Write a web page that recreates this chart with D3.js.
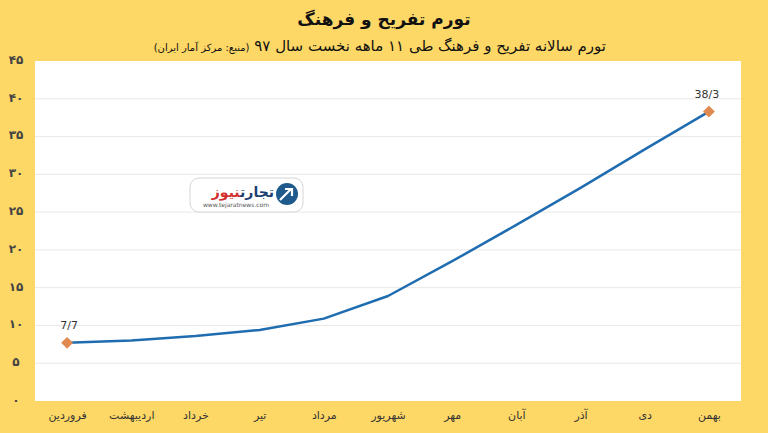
<!DOCTYPE html>
<html>
<head>
<meta charset="utf-8">
<script src="https://cdn.jsdelivr.net/npm/d3@7/dist/d3.min.js"></script>
<style>
html,body{margin:0;padding:0;background:#fed866;}
svg{display:block;}
text{font-family:"DejaVu Sans","Noto Sans",sans-serif;}
</style>
</head>
<body>
<svg id="chart" width="768" height="433"></svg>
<script>
const months = ["فروردین","اردیبهشت","خرداد","تیر","مرداد","شهریور","مهر","آبان","آذر","دی","بهمن"];
const inflation = [7.7, 8.0, 8.6, 9.4, 10.9, 13.9, 18.5, 23.3, 28.2, 33.3, 38.3];
const yTicks = [0,5,10,15,20,25,30,35,40,45];
const labeledIdx = [0, 10];
const labelText = ["7/7", "38/3"];
const title = "تورم تفریح و فرهنگ";
const subtitle = "تورم سالانه تفریح و فرهنگ طی ۱۱ ماهه نخست سال ۹۷";
const source = "(منبع: مرکز آمار ایران)";

const toFa = n => String(n).replace(/\d/g, d => "۰۱۲۳۴۵۶۷۸۹"[+d]);

const svg = d3.select("#chart");
const W = 768, H = 433;
const plot = {left: 35, top: 61, right: 741, bottom: 401};

svg.append("rect").attr("width", W).attr("height", H).attr("fill", "#fed866");

// Title
svg.append("text").attr("x", 384).attr("y", 25).attr("text-anchor", "middle")
  .attr("font-size", 17).attr("font-weight", "bold").attr("fill", "#111")
  .attr("direction", "rtl").text(title);

const sub = svg.append("text").attr("x", 606).attr("y", 51).attr("text-anchor", "start")
  .attr("direction", "rtl").attr("fill", "#111");
sub.append("tspan").attr("font-size", 15).text(subtitle + " ");
sub.append("tspan").attr("font-size", 10).text(source);

// Plot area
svg.append("rect").attr("x", plot.left).attr("y", plot.top)
  .attr("width", plot.right - plot.left).attr("height", plot.bottom - plot.top)
  .attr("fill", "#ffffff");

const x = d3.scalePoint().domain(months).range([plot.left, plot.right]).padding(0.5);
const y = d3.scaleLinear().domain([0, 45]).range([plot.bottom, plot.top]);

// gridlines
svg.append("g").selectAll("line").data(yTicks.filter(t => t > 0 && t < 45)).join("line")
  .attr("x1", plot.left).attr("x2", plot.right)
  .attr("y1", d => y(d)).attr("y2", d => y(d))
  .attr("stroke", "#e8e8e8").attr("stroke-width", 1);

// Y axis
const yAxis = svg.append("g").attr("transform", `translate(${plot.left},0)`)
  .call(d3.axisLeft(y).tickValues(yTicks).tickFormat(toFa).tickSize(0));
yAxis.select(".domain").remove();
yAxis.selectAll("text").attr("x", -19).attr("dy", "0.2em").attr("text-anchor", "middle")
  .attr("font-size", 12).attr("font-weight", "bold").attr("fill", "#444").attr("font-family", "DejaVu Sans");

// X axis
const xAxis = svg.append("g").attr("transform", `translate(0,${plot.bottom})`)
  .call(d3.axisBottom(x).tickSize(0));
xAxis.select(".domain").remove();
xAxis.selectAll("text").attr("y", 14).attr("dy", "0.32em")
  .attr("font-size", 11).attr("fill", "#333").attr("font-family", "DejaVu Sans");

// Logo
const logo = svg.append("g").attr("transform", "translate(190,178)");
logo.append("rect").attr("width", 113).attr("height", 34).attr("rx", 9)
  .attr("fill", "#fff").attr("stroke", "#d5d5d5");
logo.append("circle").attr("cx", 97).attr("cy", 16).attr("r", 11).attr("fill", "#1e5a8c");
logo.append("path").attr("d", "M90,22 L101,11 M95,11 L102,11 L102,18")
  .attr("stroke", "#fff").attr("stroke-width", 2.2).attr("fill", "none");
const lt = logo.append("text").attr("x", 84).attr("y", 19).attr("text-anchor", "start")
  .attr("direction", "rtl").attr("font-size", 14).attr("font-weight", "bold");
lt.append("tspan").attr("fill", "#1e3f73").text("تجارت");
lt.append("tspan").attr("fill", "#d32f2f").text("نیوز");
logo.append("text").attr("x", 46).attr("y", 29).attr("text-anchor", "middle")
  .attr("font-size", 6).attr("fill", "#555").text("www.tejaratnews.com");

// Line
const line = d3.line().x((d, i) => x(months[i])).y(d => y(d));
svg.append("path").datum(inflation).attr("d", line)
  .attr("fill", "none").attr("stroke", "#1f6db0").attr("stroke-width", 2.5)
  .attr("stroke-linejoin", "round");

// Markers and labels
const sym = d3.symbol().type(d3.symbolDiamond2).size(90);
svg.append("g").selectAll("path").data(labeledIdx).join("path")
  .attr("d", sym)
  .attr("transform", i => `translate(${x(months[i])},${y(inflation[i])})`)
  .attr("fill", "#e08a4f");
svg.append("g").selectAll("text").data(labeledIdx).join("text")
  .attr("x", (i, k) => x(months[i]) + (k === 0 ? 2 : -2))
  .attr("y", i => y(inflation[i]) - 14)
  .attr("text-anchor", "middle").attr("font-size", 11).attr("fill", "#333")
  .attr("font-family", "Liberation Sans, Arial, sans-serif")
  .text((i, k) => labelText[k]);
</script>
</body>
</html>
